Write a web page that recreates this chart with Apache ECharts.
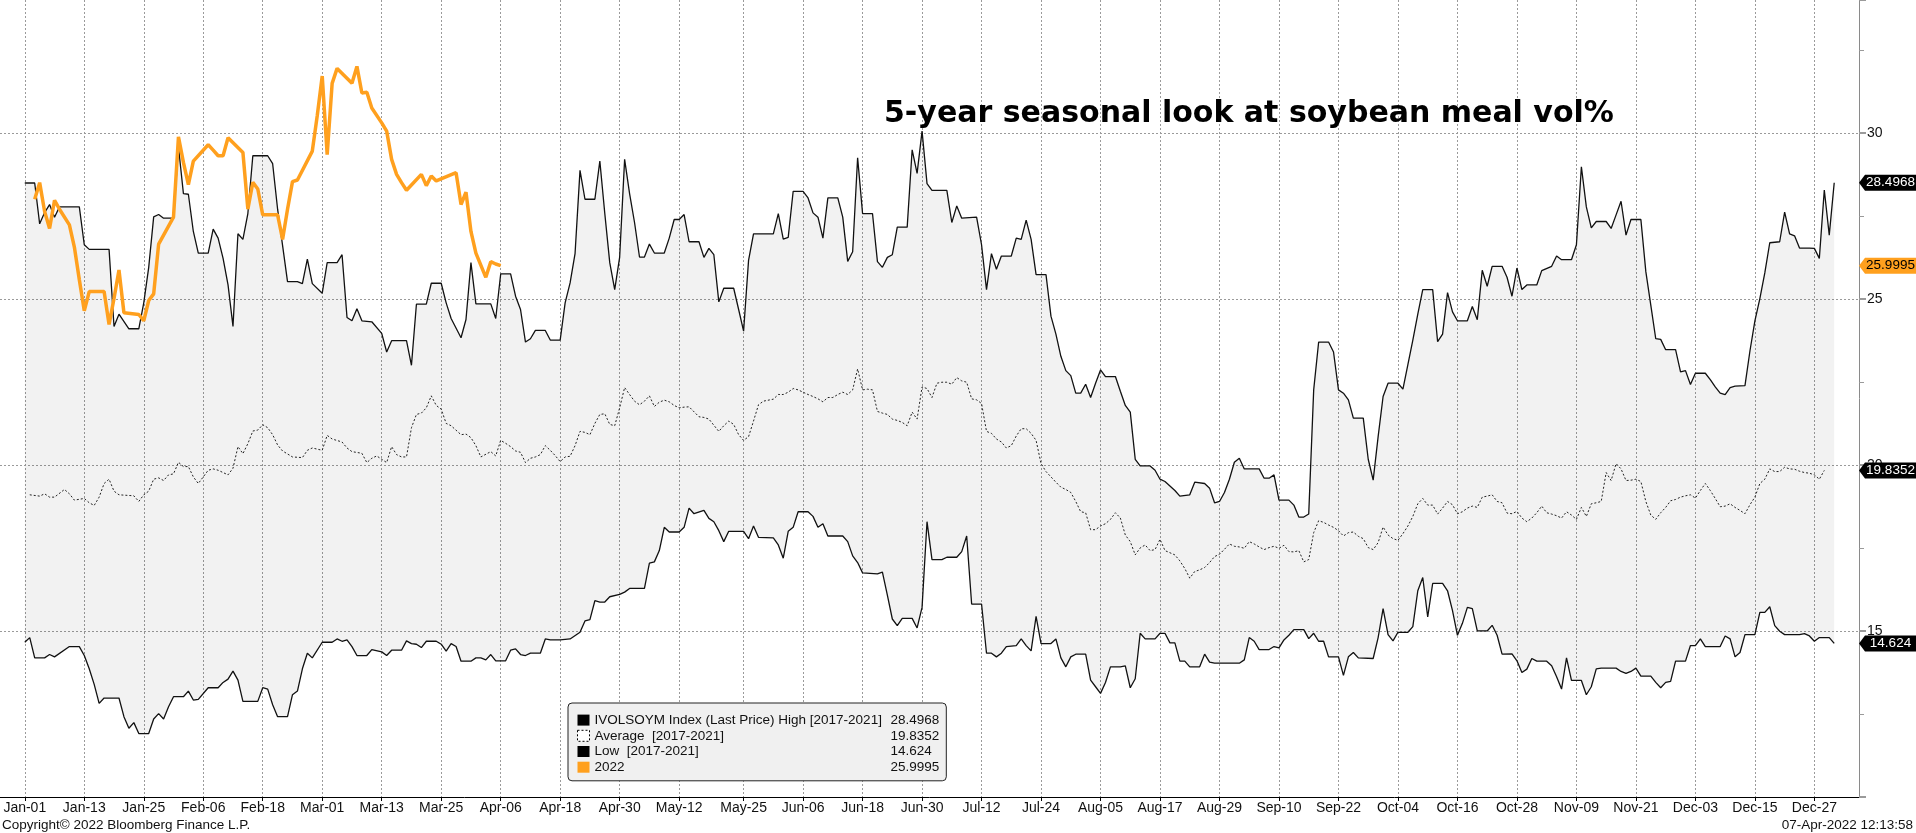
<!DOCTYPE html>
<html><head><meta charset="utf-8">
<script src="https://cdn.jsdelivr.net/npm/echarts@6/dist/echarts.min.js"></script>
<style>html,body{margin:0;padding:0;background:#fff;}#c{width:1916px;height:833px;}</style>
</head><body><div id="c"></div>
<script>
// ---------------- data (day index of a 366-day seasonal year, value) ----------------
const tickLabels = ['Jan-01','Jan-13','Jan-25','Feb-06','Feb-18','Mar-01','Mar-13','Mar-25','Apr-06','Apr-18','Apr-30','May-12','May-25','Jun-06','Jun-18','Jun-30','Jul-12','Jul-24','Aug-05','Aug-17','Aug-29','Sep-10','Sep-22','Oct-04','Oct-16','Oct-28','Nov-09','Nov-21','Dec-03','Dec-15','Dec-27'];

const highData = [[0,28.49],[2,28.49],[3,27.26],[4,27.6],[5,27.84],[6,27.46],[7,27.77],[11,27.77],[12,26.63],[13,26.49],[17,26.49],[18,24.17],[19,24.54],[21,24.1],[23,24.1],[24,24.88],[25,25.95],[26,27.47],[27,27.54],[28,27.43],[30,27.43],[31,29.58],[32,28.17],[33,28.15],[34,27.03],[35,26.38],[37,26.38],[38,27.1],[39,26.83],[40,26.22],[41,25.42],[42,24.17],[43,26.96],[44,26.79],[45,27.57],[46,29.31],[49,29.31],[50,29.07],[51,27.7],[53,25.52],[55,25.52],[56,25.46],[57,26.2],[58,25.46],[60,25.17],[61,26.09],[63,26.09],[64,26.33],[65,24.44],[66,24.34],[67,24.7],[68,24.34],[70,24.31],[72,23.96],[73,23.4],[74,23.74],[77,23.74],[78,23.0],[79,24.84],[81,24.84],[82,25.47],[84,25.47],[85,24.88],[86,24.41],[88,23.83],[89,24.38],[90,26.09],[91,24.85],[94,24.85],[95,24.41],[96,25.75],[98,25.75],[99,25.08],[100,24.68],[101,23.7],[102,23.8],[103,24.05],[105,24.05],[106,23.76],[108,23.76],[109,24.88],[110,25.48],[111,26.36],[112,28.87],[113,28.0],[115,28.0],[116,29.15],[117,27.57],[118,26.09],[119,25.28],[120,26.26],[121,29.2],[122,28.17],[123,27.3],[124,26.26],[125,26.26],[126,26.65],[127,26.38],[129,26.38],[130,26.83],[131,27.39],[132,27.39],[133,27.54],[134,26.72],[136,26.72],[137,26.25],[138,26.52],[139,26.33],[140,24.91],[141,25.32],[143,25.32],[144,24.68],[145,24.03],[146,26.16],[147,26.96],[151,26.96],[152,27.57],[153,26.8],[154,26.85],[155,28.24],[157,28.24],[158,28.04],[159,27.59],[160,27.46],[161,26.83],[162,28.04],[164,28.04],[165,27.46],[166,26.13],[167,26.42],[168,29.25],[169,27.57],[171,27.57],[172,26.12],[173,25.95],[174,26.25],[175,26.33],[176,27.16],[178,27.16],[179,29.49],[180,28.78],[181,30.05],[182,28.47],[183,28.27],[186,28.27],[187,27.3],[188,27.8],[189,27.43],[192,27.46],[193,26.63],[194,25.28],[195,26.36],[196,25.89],[197,26.29],[199,26.29],[200,26.83],[201,26.79],[202,27.37],[203,26.79],[204,25.73],[206,25.73],[207,24.48],[208,23.94],[209,23.27],[210,22.84],[211,22.69],[212,22.16],[213,22.16],[214,22.43],[215,22.03],[216,22.46],[217,22.86],[218,22.66],[220,22.66],[221,22.22],[222,21.79],[223,21.59],[224,20.17],[225,19.97],[227,19.97],[228,19.84],[229,19.57],[230,19.5],[232,19.23],[233,19.06],[235,19.1],[236,19.48],[238,19.44],[239,19.3],[240,18.86],[241,18.9],[242,19.17],[243,19.57],[244,20.08],[245,20.2],[246,19.88],[249,19.88],[250,19.6],[251,19.6],[252,19.7],[253,18.94],[255,18.94],[256,18.79],[257,18.43],[258,18.43],[259,18.52],[260,22.26],[261,23.7],[263,23.7],[264,23.4],[265,22.26],[266,22.16],[267,21.96],[268,21.41],[270,21.41],[271,20.17],[272,19.54],[273,20.85],[274,22.06],[275,22.46],[277,22.46],[278,22.28],[279,23.02],[280,23.76],[281,24.54],[282,25.28],[284,25.28],[285,23.71],[286,23.94],[287,25.19],[288,24.61],[289,24.34],[291,24.34],[292,24.77],[293,24.37],[294,25.86],[295,25.38],[296,25.98],[298,25.98],[299,25.65],[300,25.08],[301,25.93],[302,25.28],[303,25.42],[305,25.42],[306,25.85],[308,25.98],[309,26.29],[310,26.18],[312,26.18],[313,26.63],[314,28.98],[315,27.77],[316,27.14],[317,27.33],[319,27.33],[320,27.12],[321,27.53],[322,27.94],[323,26.92],[324,27.39],[326,27.39],[327,25.82],[328,24.81],[329,23.8],[330,23.78],[331,23.47],[333,23.47],[334,22.8],[335,22.84],[336,22.42],[337,22.76],[339,22.76],[340,22.57],[341,22.35],[342,22.16],[343,22.12],[344,22.33],[345,22.37],[347,22.39],[348,23.43],[349,24.34],[350,25.01],[351,25.78],[352,26.69],[354,26.72],[355,27.61],[356,26.96],[357,26.9],[358,26.53],[360,26.53],[361,26.52],[362,26.22],[363,28.28],[364,26.92],[365,28.4968]];

const lowData = [[0,14.66],[1,14.8],[2,14.19],[4,14.19],[5,14.29],[6,14.22],[9,14.53],[11,14.53],[12,14.26],[13,13.86],[14,13.39],[15,12.82],[16,12.98],[19,12.98],[20,12.42],[21,12.07],[22,12.24],[23,11.91],[25,11.91],[26,12.35],[27,12.51],[28,12.35],[29,12.72],[30,13.02],[32,13.02],[33,13.19],[34,12.92],[35,12.94],[37,13.29],[39,13.29],[40,13.45],[41,13.55],[42,13.79],[43,13.52],[44,12.88],[47,12.88],[48,13.29],[49,13.25],[50,12.78],[51,12.42],[53,12.42],[54,13.08],[55,13.19],[56,13.86],[57,14.33],[58,14.19],[60,14.66],[62,14.66],[63,14.76],[64,14.69],[65,14.73],[66,14.53],[67,14.26],[69,14.26],[70,14.44],[72,14.37],[73,14.26],[74,14.42],[76,14.42],[77,14.7],[78,14.62],[79,14.6],[80,14.5],[81,14.69],[83,14.69],[84,14.6],[85,14.39],[86,14.62],[87,14.53],[88,14.09],[90,14.09],[91,14.19],[92,14.19],[93,14.13],[94,14.29],[95,14.1],[97,14.1],[98,14.42],[99,14.46],[100,14.29],[101,14.26],[102,14.33],[104,14.33],[105,14.76],[106,14.73],[108,14.73],[110,14.76],[112,14.96],[113,15.3],[114,15.34],[115,15.91],[116,15.87],[117,15.87],[118,16.03],[120,16.1],[121,16.17],[122,16.28],[125,16.28],[126,17.04],[127,17.08],[128,17.42],[129,18.12],[130,17.98],[132,17.98],[133,18.12],[134,18.7],[135,18.53],[137,18.63],[138,18.39],[139,18.29],[140,18.02],[141,17.69],[142,18.0],[145,18.0],[146,17.78],[147,18.16],[148,17.82],[151,17.8],[152,17.59],[153,17.19],[154,18.0],[155,18.12],[156,18.59],[158,18.59],[159,18.45],[160,18.12],[161,18.23],[162,17.86],[165,17.86],[166,17.69],[167,17.26],[168,17.06],[169,16.75],[172,16.72],[173,16.77],[174,16.08],[175,15.36],[176,15.16],[177,15.38],[179,15.38],[180,15.09],[181,15.71],[182,18.29],[183,17.15],[185,17.15],[186,17.22],[188,17.22],[189,17.39],[190,17.86],[191,15.81],[193,15.81],[194,14.33],[195,14.33],[196,14.22],[197,14.33],[198,14.53],[200,14.56],[201,14.76],[202,14.56],[203,14.4],[204,15.44],[205,14.62],[207,14.62],[208,14.76],[209,14.19],[210,13.92],[211,14.22],[212,14.3],[214,14.3],[215,13.52],[216,13.32],[217,13.12],[218,13.45],[219,13.92],[221,13.92],[222,13.95],[223,13.29],[224,13.56],[225,14.93],[226,14.76],[228,14.76],[229,14.93],[230,14.93],[231,14.64],[232,14.64],[233,14.09],[234,14.09],[235,13.92],[237,13.92],[238,14.3],[239,14.06],[240,14.03],[245,14.03],[246,14.13],[247,14.8],[248,14.69],[249,14.44],[251,14.44],[252,14.53],[253,14.49],[254,14.73],[255,14.87],[256,15.04],[258,15.04],[259,14.77],[260,14.93],[261,14.69],[262,14.69],[263,14.22],[265,14.22],[266,13.66],[267,14.22],[268,14.35],[269,14.19],[272,14.17],[273,14.8],[274,15.67],[275,14.89],[276,14.7],[277,14.96],[279,14.96],[280,15.13],[281,16.21],[282,16.61],[283,15.42],[284,16.43],[286,16.43],[287,16.21],[288,15.61],[289,14.87],[290,15.23],[291,15.71],[292,15.67],[293,15.0],[295,15.0],[296,15.17],[297,14.87],[298,14.3],[300,14.31],[301,14.1],[302,13.75],[303,13.85],[304,14.17],[305,14.09],[307,14.09],[308,13.95],[309,13.62],[310,13.25],[311,14.19],[312,13.51],[314,13.51],[315,13.08],[316,13.32],[317,13.86],[318,13.88],[321,13.88],[322,13.78],[323,13.72],[324,13.78],[325,13.88],[326,13.64],[328,13.64],[329,13.45],[330,13.29],[331,13.45],[332,13.48],[333,14.09],[335,14.09],[336,14.56],[337,14.56],[338,14.76],[339,14.53],[342,14.53],[343,14.85],[344,14.76],[345,14.22],[346,14.35],[347,14.89],[349,14.89],[350,15.56],[351,15.56],[352,15.73],[353,15.16],[354,14.99],[355,14.89],[358,14.89],[359,14.92],[360,14.85],[361,14.69],[362,14.8],[364,14.8],[365,14.624]];

const avgData = [[1,19.1],[3,19.06],[4,19.13],[5,19.03],[6,19.03],[8,19.26],[9,19.13],[10,18.94],[12,18.99],[13,18.86],[14,18.78],[15,19.03],[16,19.44],[17,19.57],[18,19.21],[19,19.1],[22,19.07],[23,18.9],[24,19.1],[25,19.21],[26,19.57],[27,19.61],[28,19.53],[29,19.7],[30,19.73],[31,20.08],[32,19.95],[33,19.95],[34,19.64],[35,19.44],[36,19.64],[37,19.84],[38,19.88],[39,19.84],[40,19.77],[41,19.7],[42,19.9],[43,20.55],[44,20.34],[45,20.64],[46,21.02],[47,21.05],[48,21.21],[49,21.12],[50,20.91],[51,20.6],[52,20.42],[54,20.24],[56,20.22],[57,20.44],[58,20.51],[60,20.44],[61,20.89],[62,20.78],[64,20.69],[65,20.51],[66,20.4],[68,20.35],[69,20.07],[70,20.2],[71,20.27],[73,20.07],[74,20.55],[75,20.31],[76,20.24],[77,20.24],[78,21.12],[79,21.52],[80,21.56],[81,21.72],[82,22.08],[83,21.79],[84,21.68],[85,21.25],[86,21.18],[88,20.91],[89,20.93],[90,20.82],[91,20.58],[92,20.24],[94,20.4],[95,20.27],[96,20.74],[97,20.65],[98,20.55],[99,20.42],[100,20.38],[101,20.07],[102,20.2],[103,20.24],[104,20.31],[105,20.58],[106,20.44],[107,20.28],[108,20.1],[109,20.24],[110,20.26],[111,20.58],[112,21.01],[113,20.98],[114,20.91],[115,21.25],[116,21.52],[117,21.54],[118,21.22],[119,21.18],[120,21.72],[121,22.33],[122,22.12],[123,21.92],[124,21.81],[125,21.92],[126,22.08],[127,21.76],[128,21.89],[129,21.95],[130,21.9],[131,21.79],[132,21.72],[133,21.74],[134,21.75],[136,21.45],[137,21.43],[138,21.38],[140,21.01],[141,21.18],[142,21.32],[143,21.22],[144,20.91],[145,20.74],[146,20.85],[147,21.32],[148,21.81],[149,21.92],[151,21.98],[152,22.12],[153,22.12],[154,22.19],[155,22.3],[156,22.26],[157,22.19],[158,22.12],[159,22.06],[160,21.99],[161,21.9],[162,22.03],[163,22.03],[164,22.12],[165,22.19],[166,22.12],[167,22.26],[168,22.89],[169,22.26],[170,22.28],[171,22.26],[172,21.61],[173,21.56],[174,21.52],[175,21.38],[176,21.34],[177,21.28],[178,21.18],[179,21.59],[180,21.38],[181,22.35],[182,22.3],[183,22.03],[184,22.46],[185,22.49],[186,22.49],[187,22.43],[188,22.63],[189,22.53],[190,22.49],[191,21.99],[192,21.96],[193,21.85],[194,21.01],[195,20.95],[196,20.78],[197,20.69],[198,20.51],[199,20.58],[200,20.87],[201,21.09],[202,21.09],[203,20.95],[204,20.74],[205,20.04],[206,19.8],[207,19.64],[208,19.48],[209,19.33],[210,19.26],[211,19.17],[212,18.9],[213,18.59],[214,18.56],[215,18.05],[216,18.05],[217,18.16],[218,18.23],[219,18.36],[220,18.56],[221,18.4],[222,17.89],[223,17.69],[224,17.29],[225,17.5],[226,17.59],[227,17.42],[228,17.45],[229,17.76],[230,17.42],[232,17.29],[233,17.11],[234,16.88],[235,16.59],[236,16.79],[237,16.84],[238,16.91],[239,17.06],[240,17.24],[241,17.31],[242,17.46],[243,17.62],[244,17.55],[245,17.53],[246,17.49],[247,17.69],[248,17.62],[249,17.53],[250,17.45],[251,17.51],[252,17.55],[253,17.49],[254,17.58],[255,17.39],[256,17.38],[257,17.42],[258,17.08],[259,17.15],[260,17.96],[261,18.32],[262,18.27],[263,18.19],[264,18.12],[265,18.02],[266,17.86],[267,17.96],[268,17.98],[269,17.85],[270,17.78],[271,17.51],[272,17.45],[273,17.66],[274,18.13],[275,17.89],[276,17.78],[277,17.73],[278,17.93],[279,18.16],[280,18.45],[281,18.83],[282,18.99],[283,18.79],[284,18.79],[285,18.52],[286,18.7],[287,18.9],[288,18.8],[289,18.53],[290,18.59],[291,18.7],[292,18.76],[293,18.72],[294,19.03],[295,19.06],[296,19.1],[297,18.9],[298,18.86],[299,18.55],[300,18.53],[301,18.6],[302,18.4],[303,18.29],[304,18.4],[305,18.56],[306,18.76],[307,18.56],[308,18.52],[309,18.47],[310,18.4],[311,18.59],[312,18.49],[313,18.36],[314,18.72],[315,18.45],[316,18.83],[317,18.86],[318,18.9],[319,19.77],[320,19.53],[321,20.04],[322,19.88],[323,19.53],[324,19.54],[325,19.57],[326,19.5],[327,18.9],[328,18.49],[329,18.36],[330,18.56],[331,18.72],[332,18.92],[333,18.96],[334,19.03],[335,19.07],[336,19.1],[337,19.0],[338,19.23],[339,19.44],[340,19.23],[341,18.99],[342,18.74],[343,18.76],[344,18.83],[345,18.72],[346,18.63],[347,18.53],[348,18.8],[349,19.03],[350,19.44],[351,19.57],[352,19.88],[353,19.8],[354,19.8],[355,19.93],[356,19.88],[357,19.87],[358,19.81],[359,19.77],[360,19.75],[361,19.7],[362,19.57],[363,19.8352]];

const y2022Data = [[2,28.0],[3,28.5],[4,27.63],[5,27.12],[6,27.97],[7,27.7],[9,27.23],[10,26.56],[11,25.58],[12,24.64],[13,25.22],[16,25.22],[17,24.23],[18,25.01],[19,25.87],[20,24.58],[23,24.53],[24,24.34],[25,24.95],[26,25.15],[27,26.65],[30,27.46],[31,29.88],[32,29.11],[33,28.44],[34,29.15],[37,29.64],[38,29.48],[39,29.31],[40,29.31],[41,29.85],[44,29.41],[45,27.7],[46,28.51],[47,28.31],[48,27.53],[51,27.53],[52,26.79],[53,27.7],[54,28.53],[55,28.58],[58,29.45],[59,30.52],[60,31.71],[61,29.34],[62,31.49],[63,31.94],[66,31.49],[67,32.0],[68,31.2],[69,31.22],[70,30.75],[72,30.3],[73,30.05],[74,29.2],[75,28.75],[76,28.5],[77,28.27],[80,28.75],[81,28.41],[82,28.7],[83,28.55],[87,28.8],[88,27.84],[89,28.21],[90,27.03],[91,26.38],[93,25.65],[94,26.12],[95,26.05],[96,25.9995]];

const seriesNames = ['IVOLSOYM Index (Last Price) High [2017-2021]', 'Average  [2017-2021]', 'Low  [2017-2021]', '2022'];
const lastValues = ['28.4968', '19.8352', '14.624', '25.9995'];
const footerLeft = 'Copyright\u00a9 2022 Bloomberg Finance L.P.';
const footerRight = '07-Apr-2022 12:13:58';
const titleText = '5-year seasonal look at soybean meal vol%';

// ---------------- axis categories (leap-year calendar with padding) ----------------
const PAD = 5;
const MONTHS = ['Jan','Feb','Mar','Apr','May','Jun','Jul','Aug','Sep','Oct','Nov','Dec'];
const categories = [];
for (let i = -PAD; i <= 365 + PAD; i++) {
  const d = new Date(Date.UTC(2020, 0, 1 + i));
  categories.push(MONTHS[d.getUTCMonth()] + '-' + String(d.getUTCDate()).padStart(2, '0'));
}
const LAST = categories.length - 1;
const tickIdx = new Set(tickLabels.map(l => categories.indexOf(l, PAD)));
const showTick = (idx) => tickIdx.has(idx);
const toXY = arr => arr.map(([d, v]) => [d + PAD, v]);

const FONT = "'Liberation Sans', Arial, sans-serif";
const GRID_COLOR = '#9a9a9a';

function tag(val, bg, fg) {
  return {
    symbol: 'path://M0,8 L6,0 L57,0 L57,16 L6,16 Z',
    symbolSize: [57, 16],
    symbolKeepAspect: false,
    symbolOffset: [28.5, 0],
    silent: true,
    animation: false,
    itemStyle: { color: bg },
    label: { show: true, position: 'inside', offset: [3, 0], color: fg, fontSize: 13.5, fontFamily: FONT, formatter: String(val) },
    data: [{ coord: [LAST, Number(val)], value: Number(val) }]
  };
}

const chart = echarts.init(document.getElementById('c'), null, { renderer: 'canvas' });
const legendMap = {};
seriesNames.forEach((n, i) => legendMap[n] = lastValues[i]);

chart.setOption({
  animation: false,
  backgroundColor: '#ffffff',
  grid: { left: 0, right: 57, top: -2, bottom: 36, containLabel: false },
  xAxis: {
    type: 'category',
    data: categories,
    boundaryGap: false,
    axisLine: { show: true, lineStyle: { color: '#000', width: 1 } },
    axisTick: { show: true, interval: showTick, length: 4, lineStyle: { color: '#000' } },
    axisLabel: { show: true, interval: showTick, color: '#111', fontSize: 14, fontFamily: FONT, margin: 4 },
    splitLine: { show: true, interval: showTick, lineStyle: { color: GRID_COLOR, type: [2, 2], width: 1 } }
  },
  yAxis: {
    type: 'value',
    position: 'right',
    min: 10, max: 34, interval: 5,
    axisLine: { show: true, lineStyle: { color: '#8a8a8a', width: 1 } },
    axisTick: { show: true, length: 7, lineStyle: { color: '#9a9a9a', width: 2 } },
    minorTick: { show: true, splitNumber: 2, length: 5, lineStyle: { color: '#9a9a9a', width: 1 } },
    axisLabel: { show: true, showMinLabel: false, showMaxLabel: false, color: '#111', fontSize: 14, fontFamily: FONT, margin: 8 },
    splitLine: { show: true, showMaxLine: false, showMinLine: false, lineStyle: { color: GRID_COLOR, type: [2, 2], width: 1 } }
  },
  legend: {
    show: true,
    orient: 'vertical',
    left: 568, top: 703,
    padding: [9.5, 7, 6, 9],
    backgroundColor: '#f0f0f0',
    borderColor: '#222',
    borderWidth: 1,
    borderRadius: 4,
    itemWidth: 12, itemHeight: 11, itemGap: 0.5,
    selectedMode: false,
    textStyle: { fontSize: 13.5, fontFamily: FONT, color: '#111', lineHeight: 15.2,
      rich: { n: { width: 296, fontSize: 13.5, fontFamily: FONT, color: '#111', lineHeight: 15.2 },
              v: { fontSize: 13.5, fontFamily: FONT, color: '#111', lineHeight: 15.2 } } },
    formatter: name => '{n|' + name + '}{v|' + legendMap[name] + '}',
    data: [
      { name: seriesNames[0], icon: 'rect', itemStyle: { color: '#000', borderWidth: 0 } },
      { name: seriesNames[1], icon: 'rect', itemStyle: { color: '#fff', borderColor: '#000', borderWidth: 1, borderType: [2, 2] } },
      { name: seriesNames[2], icon: 'rect', itemStyle: { color: '#000', borderWidth: 0 } },
      { name: seriesNames[3], icon: 'rect', itemStyle: { color: '#FFA01E', borderWidth: 0 } }
    ]
  },
  graphic: [
    { type: 'text', x: 884, y: 114, z: 100, style: { text: titleText, fill: '#000', font: "bold 30px 'DejaVu Sans', sans-serif", verticalAlign: 'middle', align: 'left' } },
    { type: 'text', x: 2, y: 825, z: 100, style: { text: footerLeft, fill: '#111', font: '13.5px ' + FONT, verticalAlign: 'middle', align: 'left' } },
    { type: 'text', x: 1913, y: 825, z: 100, style: { text: footerRight, fill: '#111', font: '13.5px ' + FONT, verticalAlign: 'middle', align: 'right' } }
  ],
  series: [
    {
      name: 'band', type: 'custom', silent: true, z: 1,
      data: [[PAD, 20]],
      renderItem: (params, api) => {
        if (params.dataIndex !== 0) return null;
        const pts = [];
        highData.forEach(([d, v]) => pts.push(api.coord([d + PAD, v])));
        for (let i = lowData.length - 1; i >= 0; i--) pts.push(api.coord([lowData[i][0] + PAD, lowData[i][1]]));
        return { type: 'polygon', shape: { points: pts }, style: { fill: 'rgba(0,0,0,0.05)', stroke: null } };
      }
    },
    {
      name: seriesNames[0], type: 'line', z: 3, data: toXY(highData), showSymbol: false, symbol: 'none',
      color: '#000', lineStyle: { color: '#111', width: 1.3 },
      markPoint: tag(lastValues[0], '#000', '#fff')
    },
    {
      name: seriesNames[1], type: 'line', z: 3, data: toXY(avgData), showSymbol: false, symbol: 'none',
      color: '#000', lineStyle: { color: '#222', width: 1, type: [2, 2] },
      markPoint: tag(lastValues[1], '#000', '#fff')
    },
    {
      name: seriesNames[2], type: 'line', z: 3, data: toXY(lowData), showSymbol: false, symbol: 'none',
      color: '#000', lineStyle: { color: '#111', width: 1.3 },
      markPoint: tag(lastValues[2], '#000', '#fff')
    },
    {
      name: seriesNames[3], type: 'line', z: 4, data: toXY(y2022Data), showSymbol: false, symbol: 'none',
      color: '#FFA01E', lineStyle: { color: '#FFA01E', width: 3.5 },
      markPoint: tag(lastValues[3], '#FFA01E', '#000')
    }
  ]
});
</script></body></html>
